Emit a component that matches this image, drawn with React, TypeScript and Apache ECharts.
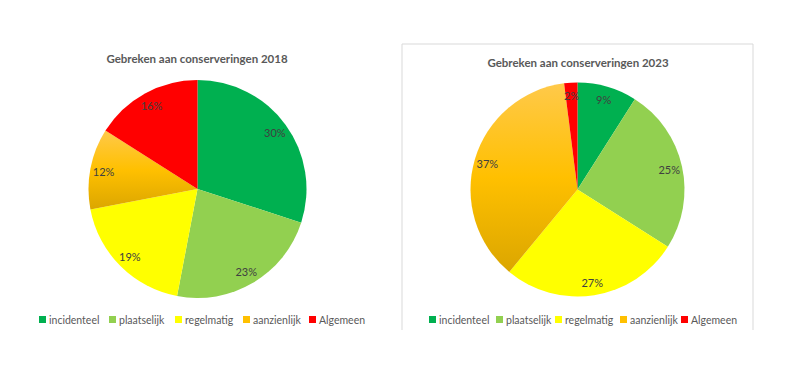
import React, { useEffect, useRef } from "react";
import * as echarts from "echarts";

const categories = ["incidenteel", "plaatselijk", "regelmatig", "aanzienlijk", "Algemeen"];
const values2018 = [30, 23, 19, 12, 16];
const values2023 = [9, 25, 27, 37, 2];
const titles = ["Gebreken aan conserveringen 2018", "Gebreken aan conserveringen 2023"];
const colors = ["#00B050", "#92D050", "#FFFF00", "#FFC000", "#FF0000"];

const FONT = "Lato, 'Open Sans', sans-serif";

const legendLeft2018 = [39, 109, 175, 243, 309];
const legendLeft2023 = [429, 496, 555, 620, 681];

function sliceColor(i: number) {
  if (i === 3) {
    return new echarts.graphic.LinearGradient(0, 0, 0, 1, [
      { offset: 0, color: "#FFC94A" },
      { offset: 0.5, color: "#FFC000" },
      { offset: 1, color: "#DBA600" },
    ]);
  }
  return colors[i];
}

function pieSeries(values: number[], center: [number, number], r: number) {
  const main = {
    type: "pie",
    center,
    radius: [0, r],
    startAngle: 90,
    clockwise: true,
    silent: true,
    label: { show: false },
    labelLine: { show: false },
    itemStyle: { borderWidth: 0 },
    data: values.map((v, i) => ({
      name: categories[i],
      value: v,
      itemStyle: { color: sliceColor(i) },
    })),
  };
  const labels = {
    type: "pie",
    center,
    radius: [r * 0.7, r],
    startAngle: 90,
    clockwise: true,
    silent: true,
    label: {
      show: true,
      position: "inside",
      formatter: "{d}%",
      color: "#404040",
      fontSize: 11,
      fontFamily: FONT,
    },
    labelLine: { show: false },
    itemStyle: { color: "transparent", borderWidth: 0 },
    data: values.map((v, i) => ({ name: categories[i], value: v })),
  };
  return [main, labels];
}

function legendItem(left: number, i: number) {
  return {
    left,
    top: 314,
    padding: 0,
    orient: "horizontal",
    itemWidth: 7,
    itemHeight: 7,
    icon: "rect",
    selectedMode: false,
    textStyle: { fontSize: 10.5, color: "#595959", fontFamily: FONT, padding: [0, 0, 0, -2] },
    data: [{ name: categories[i], itemStyle: { color: colors[i] } }],
  };
}

export default function App() {
  const ref = useRef<HTMLDivElement>(null);
  useEffect(() => {
    document.body.style.margin = "0";
    const chart = echarts.init(ref.current!, null, { renderer: "svg" });
    chart.setOption({
      animation: false,
      backgroundColor: "#ffffff",
      legend: [
        ...legendLeft2018.map((l, i) => legendItem(l, i)),
        ...legendLeft2023.map((l, i) => legendItem(l, i)),
      ],
      graphic: [
        {
          type: "polyline",
          shape: { points: [[402, 330], [402, 44], [753, 44], [753, 330]] },
          style: { stroke: "#d9d9d9", fill: "none", lineWidth: 1 },
          silent: true,
        },
        {
          type: "text",
          x: 197,
          y: 58,
          style: {
            text: titles[0],
            textAlign: "center",
            textVerticalAlign: "middle",
            fontSize: 11.5,
            fontWeight: "bold",
            fontFamily: FONT,
            fill: "#595959",
          },
        },
        {
          type: "text",
          x: 578,
          y: 62,
          style: {
            text: titles[1],
            textAlign: "center",
            textVerticalAlign: "middle",
            fontSize: 11.5,
            fontWeight: "bold",
            fontFamily: FONT,
            fill: "#595959",
          },
        },
      ],
      series: [
        ...pieSeries(values2018, [197.5, 189], 109),
        ...pieSeries(values2023, [577.5, 189.5], 107),
      ],
    });
    return () => chart.dispose();
  }, []);
  return <div ref={ref} style={{ width: 793, height: 365 }} />;
}
